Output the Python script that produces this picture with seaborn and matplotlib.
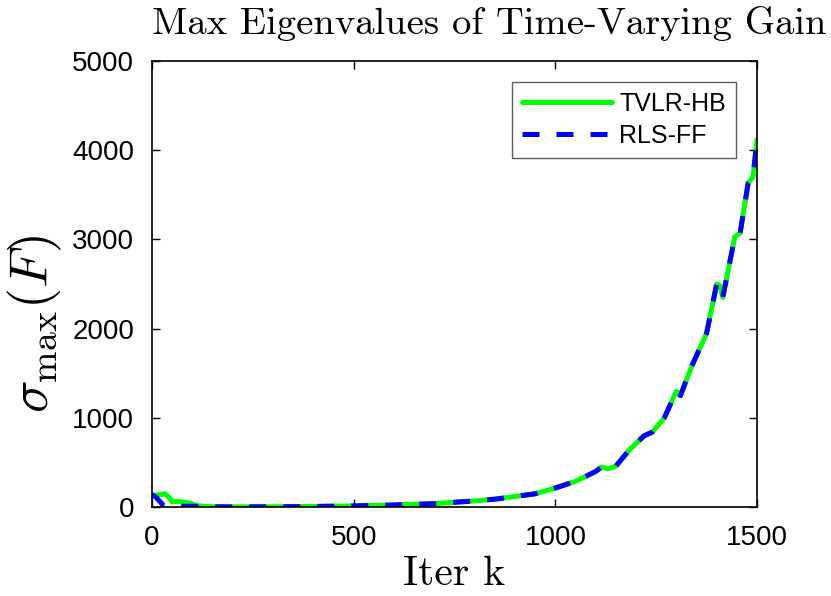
import numpy as np
import pandas as pd
import matplotlib
matplotlib.use("Agg")
import matplotlib.pyplot as plt
import seaborn as sns

# data
iters_hb = [0, 10, 20, 32, 42, 50, 60, 70, 80, 95, 112, 150, 200, 300, 400, 500, 600,
            700, 750, 800, 850, 900, 950, 1000, 1050, 1100, 1115, 1130, 1150, 1185,
            1220, 1240, 1270, 1300, 1310, 1340, 1375, 1400, 1408, 1415, 1445, 1458,
            1478, 1490, 1500]
sigma_hb = [140, 135, 140, 150, 110, 60, 65, 62, 55, 45, 15, 5, 4, 5, 8, 15, 25,
            40, 55, 70, 90, 120, 150, 215, 290, 400, 450, 430, 460, 650,
            800, 840, 1000, 1300, 1250, 1600, 1950, 2500, 2480, 2350, 3030, 3070,
            3630, 3700, 4120]

iters_ff = [0, 10, 20, 30, 40, 60, 80, 95, 112, 150, 200, 300, 400, 500, 600,
            700, 750, 800, 850, 900, 950, 1000, 1050, 1100, 1115, 1130, 1150, 1185,
            1220, 1240, 1270, 1300, 1310, 1340, 1375, 1400, 1408, 1415, 1445, 1458,
            1478, 1490, 1500]
sigma_ff = [140, 110, 60, 10, 5, 8, 10, 10, 10, 5, 4, 5, 8, 15, 25,
            40, 55, 70, 90, 120, 150, 215, 290, 400, 450, 430, 460, 650,
            800, 840, 1000, 1300, 1250, 1600, 1950, 2500, 2480, 2350, 3030, 3070,
            3630, 3700, 4120]

sns.set_style("ticks")
plt.rcParams["font.family"] = ["Liberation Sans", "DejaVu Sans"]
plt.rcParams["mathtext.fontset"] = "cm"
plt.rcParams["text.color"] = "black"
plt.rcParams["xtick.color"] = "black"
plt.rcParams["ytick.color"] = "black"

fig = plt.figure(figsize=(8.31, 5.96), dpi=100)
ax = fig.add_axes([0.183, 0.149, 0.728, 0.749])

sns.lineplot(x=iters_hb, y=sigma_hb, ax=ax, color="#00ff00", lw=3.6,
             sort=False, estimator=None, label="TVLR-HB")
sns.lineplot(x=iters_ff, y=sigma_ff, ax=ax, color="#0000ff", lw=3.6,
             sort=False, estimator=None, label="RLS-FF", dashes=False)
ax.lines[1].set_dashes((3.4, 3.4))

ax.set_xlim(0, 1500)
ax.set_ylim(0, 5000)
ax.set_xticks([0, 500, 1000, 1500])
ax.set_yticks([0, 1000, 2000, 3000, 4000, 5000])
ax.tick_params(direction="in", length=6, width=1, labelsize=20,
               top=True, right=True, pad=13, colors="black")
for s in ax.spines.values():
    s.set_linewidth(1.2)
    s.set_color("black")

ax.set_title("Max Eigenvalues of Time-Varying Gain", family="cmr10",
             fontsize=27.8, x=0.558, pad=19, color="black")
ax.set_xlabel("Iter k", family="cmr10", fontsize=30, labelpad=3, color="black")
ax.set_ylabel(r"$\sigma_{\max}(F)$", fontsize=39, color="black")
ax.yaxis.set_label_coords(-0.145, 0.41)

leg = ax.legend(loc="upper right", fontsize=18, frameon=True, fancybox=False,
                handlelength=3.6, borderaxespad=0.85, borderpad=0.4,
                labelspacing=0.3, handletextpad=0.3)
leg.get_frame().set_edgecolor("#333333")
leg.get_frame().set_linewidth(1.0)
leg.get_lines()[1].set_dashes((3.4, 3.4))
for t in leg.get_texts():
    t.set_color("black")

fig.savefig("out.png", dpi=100)
